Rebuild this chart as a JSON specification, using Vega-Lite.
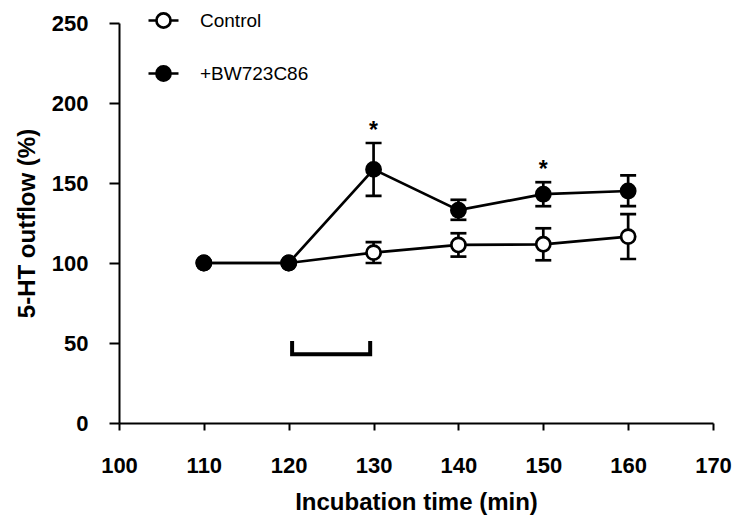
{
  "$schema": "https://vega.github.io/schema/vega-lite/v6.json",
  "autosize": {"type": "none"},
  "width": 594,
  "height": 400,
  "padding": {"left": 119, "top": 23, "right": 29, "bottom": 97},
  "background": "white",
  "config": {
    "view": {"stroke": null},
    "font": "Liberation Sans",
    "axis": {
      "domainColor": "black", "domainWidth": 2, "tickColor": "black", "tickWidth": 2,
      "grid": false, "labelFont": "Liberation Sans", "labelFontWeight": "bold", "labelFontSize": 22,
      "labelColor": "black", "titleFont": "Liberation Sans", "titleFontWeight": "bold",
      "titleFontSize": 24, "titleColor": "black", "labelFlush": false
    }
  },
  "datasets": {
    "series": [
      {"group": "Control", "t": 110, "m": 100, "lo": 100, "hi": 100, "sig": ""},
      {"group": "Control", "t": 120, "m": 100, "lo": 100, "hi": 100, "sig": ""},
      {"group": "Control", "t": 130, "m": 106.5, "lo": 100, "hi": 113, "sig": ""},
      {"group": "Control", "t": 140, "m": 111.3, "lo": 104, "hi": 118.6, "sig": ""},
      {"group": "Control", "t": 150, "m": 111.7, "lo": 101.7, "hi": 121.7, "sig": ""},
      {"group": "Control", "t": 160, "m": 116.5, "lo": 102.5, "hi": 130.5, "sig": ""},
      {"group": "+BW723C86", "t": 110, "m": 100, "lo": 100, "hi": 100, "sig": ""},
      {"group": "+BW723C86", "t": 120, "m": 100, "lo": 100, "hi": 100, "sig": ""},
      {"group": "+BW723C86", "t": 130, "m": 158.5, "lo": 142, "hi": 175, "sig": "*"},
      {"group": "+BW723C86", "t": 140, "m": 133, "lo": 127, "hi": 139.5, "sig": ""},
      {"group": "+BW723C86", "t": 150, "m": 143, "lo": 135.5, "hi": 150.5, "sig": "*"},
      {"group": "+BW723C86", "t": 160, "m": 145, "lo": 135.5, "hi": 154.8, "sig": ""}
    ],
    "bracket": [
      {"bx": 120.4, "by": 50, "k": 1},
      {"bx": 120.4, "by": 43, "k": 2},
      {"bx": 129.6, "by": 43, "k": 3},
      {"bx": 129.6, "by": 50, "k": 4}
    ]
  },
  "layer": [
    {
      "data": {"name": "series"},
      "mark": {"type": "line", "color": "black", "strokeWidth": 2.7},
      "encoding": {
        "x": {"field": "t", "type": "quantitative", "scale": {"domain": [100, 170], "nice": false},
          "axis": {"values": [100,110,120,130,140,150,160,170], "tickSize": 7, "labelPadding": 25,
            "title": "Incubation time (min)", "titlePadding": 14}},
        "y": {"field": "m", "type": "quantitative", "scale": {"domain": [0, 250], "nice": false},
          "axis": {"values": [0,50,100,150,200,250], "tickSize": 10, "labelPadding": 21,
            "title": "5-HT outflow (%)", "titlePadding": 12}},
        "detail": {"field": "group"}
      }
    },
    {
      "data": {"name": "series"},
      "transform": [{"filter": "datum.hi > datum.m"}],
      "mark": {"type": "errorbar", "color": "black", "opacity": 1,
        "ticks": {"size": 16, "thickness": 2.7, "opacity": 1, "color": "black"},
        "rule": {"strokeWidth": 2.7, "opacity": 1, "color": "black"}},
      "encoding": {
        "x": {"field": "t", "type": "quantitative", "scale": {"domain": [100, 170], "nice": false}},
        "y": {"field": "lo", "type": "quantitative", "scale": {"domain": [0, 250], "nice": false}, "title": "5-HT outflow (%)"},
        "y2": {"field": "hi"}
      }
    },
    {
      "data": {"name": "series"},
      "mark": {"type": "point", "shape": "circle", "size": 200, "stroke": "black", "strokeWidth": 2.7, "opacity": 1, "filled": false},
      "encoding": {
        "x": {"field": "t", "type": "quantitative", "scale": {"domain": [100, 170], "nice": false}},
        "y": {"field": "m", "type": "quantitative", "scale": {"domain": [0, 250], "nice": false}},
        "fill": {"field": "group", "type": "nominal",
          "scale": {"domain": ["Control", "+BW723C86"], "range": ["white", "black"]},
          "legend": {"title": null, "orient": "none", "legendX": 28, "legendY": -19, "padding": 0,
            "symbolType": "M-1,0L-0.47,0M0.47,0L1,0M-0.47,0A0.47,0.47,0,1,1,0.47,0A0.47,0.47,0,1,1,-0.47,0Z",
            "symbolSize": 900, "symbolStrokeColor": "black", "symbolStrokeWidth": 2.7, "symbolOpacity": 1,
            "labelFontSize": 19, "labelFont": "Liberation Sans", "labelColor": "black", "labelOffset": 20,
            "rowPadding": 24}}
      }
    },
    {
      "data": {"name": "series"},
      "mark": {"type": "text", "fontSize": 23, "fontWeight": "bold", "color": "black", "dy": -12, "baseline": "middle"},
      "encoding": {
        "x": {"field": "t", "type": "quantitative", "scale": {"domain": [100, 170], "nice": false}},
        "y": {"field": "hi", "type": "quantitative", "scale": {"domain": [0, 250], "nice": false}},
        "text": {"field": "sig"}
      }
    },
    {
      "data": {"name": "bracket"},
      "mark": {"type": "line", "color": "black", "strokeWidth": 4, "strokeJoin": "miter", "strokeCap": "square"},
      "encoding": {
        "x": {"field": "bx", "type": "quantitative", "scale": {"domain": [100, 170], "nice": false}},
        "y": {"field": "by", "type": "quantitative", "scale": {"domain": [0, 250], "nice": false}},
        "order": {"field": "k"}
      }
    }
  ]
}
